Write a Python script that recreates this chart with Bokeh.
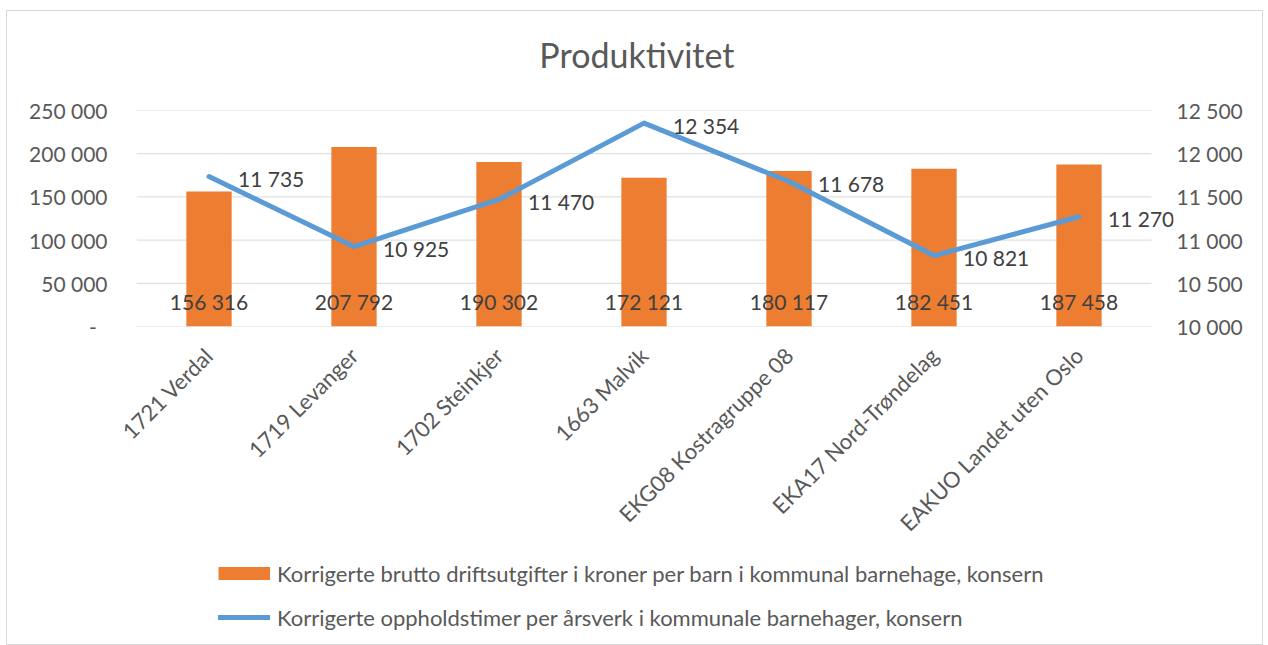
import math
from bokeh.plotting import figure
from bokeh.layouts import column
from bokeh.models import (Range1d, LinearAxis, FixedTicker, CustomJSTickFormatter,
                          Legend, LegendItem, ColumnDataSource, InlineStyleSheet)
from bokeh.core.properties import value
from bokeh.embed import file_html
from bokeh.resources import INLINE

categories = ["1721 Verdal", "1719 Levanger", "1702 Steinkjer", "1663 Malvik",
              "EKG08 Kostragruppe 08", "EKA17 Nord-Trøndelag", "EAKUO Landet uten Oslo"]
cost_values = [156316, 207792, 190302, 172121, 180117, 182451, 187458]
hours_values = [11735, 10925, 11470, 12354, 11678, 10821, 11270]
left_ticks = [0, 50000, 100000, 150000, 200000, 250000]
right_ticks = [10000, 10500, 11000, 11500, 12000, 12500]
title_text = "Produktivitet"
cost_label = "Korrigerte brutto driftsutgifter i kroner per barn i kommunal barnehage, konsern"
hours_label = "Korrigerte oppholdstimer per årsverk i kommunale barnehager, konsern"

FONT = "Lato"
GRAY = "#595959"
DARK = "#404040"
ORANGE = "#ED7D31"
BLUE = "#5B9BD5"
GRID = "#d9d9d9"

def fmt(n):
    return f"{n:,}".replace(",", " ")

n = len(categories)
xpos = [i + 0.5 for i in range(n)]  # category centres on a numeric scale

src = ColumnDataSource(dict(
    x=xpos, cat=categories, cost=cost_values, hours=hours_values,
    cost_txt=[fmt(v) for v in cost_values],
    hours_txt=[fmt(v) for v in hours_values],
    zero=[0] * n,
))

W = 1255
H_TITLE = 85
H_CHART = 460
H_LEG = 633 - H_TITLE - H_CHART
FRAME_L = 129          # frame left (px inside figure)
FRAME_R = 1166         # frame right (px inside figure), leaves room for last label
CAT_PX = 145           # px per category
x_end = (FRAME_R - FRAME_L) / CAT_PX

# ---- title panel ----
tfig = figure(width=W, height=H_TITLE, output_backend="svg", toolbar_location=None,
              x_range=Range1d(0, 1), y_range=Range1d(0, 1), title=None,
              x_axis_type=None, y_axis_type=None, min_border=0)
tfig.outline_line_color = None
tfig.grid.visible = False
tfig.text(x=[0.3885], y=[0.49], text=[title_text], text_align="left",
          text_baseline="alphabetic", text_font=value(FONT), text_font_size="34px",
          text_color=GRAY)

# ---- main chart ----
p = figure(x_range=Range1d(0, x_end), y_range=Range1d(0, 250000), title=None,
           width=W, height=H_CHART, output_backend="svg", toolbar_location=None,
           min_border_left=FRAME_L, min_border_right=W - FRAME_R, min_border_top=14,
           min_border_bottom=H_CHART - 14 - 216)
p.extra_y_ranges = {"right": Range1d(10000, 12500)}

p.outline_line_color = None
p.xgrid.visible = False
p.ygrid.visible = False

# horizontal gridlines spanning the category area only
p.segment(x0=[0] * len(left_ticks), x1=[n] * len(left_ticks), y0=left_ticks, y1=left_ticks,
          line_color=GRID, line_width=1)

num_code = """
if (tick == 0) { return "-\\u00a0\\u00a0"; }
return Math.round(tick).toString().replace(/\\B(?=(\\d{3})+(?!\\d))/g, " ");
"""
num_code_r = """
return Math.round(tick).toString().replace(/\\B(?=(\\d{3})+(?!\\d))/g, " ");
"""

ya = p.yaxis[0]
ya.ticker = FixedTicker(ticks=left_ticks)
ya.formatter = CustomJSTickFormatter(code=num_code)
ya.axis_line_color = None
ya.major_tick_line_color = None
ya.minor_tick_line_color = None
ya.major_label_standoff = 23
ya.major_label_text_font = FONT
ya.major_label_text_font_size = "21px"
ya.major_label_text_color = GRAY

ra = LinearAxis(y_range_name="right", ticker=FixedTicker(ticks=right_ticks),
                formatter=CustomJSTickFormatter(code=num_code_r))
ra.axis_line_color = None
ra.major_tick_line_color = None
ra.minor_tick_line_color = None
ra.major_label_standoff = -3
ra.major_label_text_font = FONT
ra.major_label_text_font_size = "21px"
ra.major_label_text_color = GRAY
p.add_layout(ra, "right")

xa = p.xaxis[0]
xa.ticker = FixedTicker(ticks=xpos)
xa.major_label_overrides = {x: c for x, c in zip(xpos, categories)}
xa.axis_line_color = None
xa.major_tick_line_color = None
xa.minor_tick_line_color = None
xa.major_label_orientation = math.pi / 4
xa.major_label_standoff = 19
xa.major_label_text_font = FONT
xa.major_label_text_font_size = "22px"
xa.major_label_text_color = GRAY

bars = p.vbar(x="x", top="cost", width=0.3125, source=src, fill_color=ORANGE, line_color=None)
line = p.line(x="x", y="hours", source=src, y_range_name="right", line_color=BLUE,
              line_width=5, line_cap="round", line_join="round")

p.text(x="x", y="zero", text="cost_txt", source=src, text_align="center",
       text_baseline="middle", y_offset=-25, text_font=value(FONT),
       text_font_size="21px", text_color=DARK)
p.text(x="x", y="hours", text="hours_txt", source=src, y_range_name="right",
       text_align="left", text_baseline="middle", x_offset=29, y_offset=2,
       text_font=value(FONT), text_font_size="21px", text_color=DARK)

# ---- legend panel ----
leg = figure(width=W, height=H_LEG, output_backend="svg", toolbar_location=None,
             x_range=Range1d(0, 1), y_range=Range1d(0, 1), title=None,
             x_axis_type=None, y_axis_type=None, min_border=0)
leg.outline_line_color = None
leg.grid.visible = False
sw_bar = leg.line(x=[-5, -4], y=[-5, -5], line_color=ORANGE, line_width=13, line_cap="butt")
sw_line = leg.line(x=[-5, -4], y=[-5, -5], line_color=BLUE, line_width=5, line_cap="round")

legend = Legend(items=[LegendItem(label=cost_label, renderers=[sw_bar]),
                       LegendItem(label=hours_label, renderers=[sw_line])],
                location=(82, 12), orientation="vertical",
                glyph_width=52, glyph_height=16, label_height=30, spacing=14,
                padding=0, margin=0, label_standoff=7,
                border_line_color=None, background_fill_alpha=0,
                label_text_font=FONT, label_text_font_size="22px", label_text_color=GRAY)
leg.add_layout(legend, "center")

layout = column(tfig, p, leg, spacing=0, margin=(11, 0, 0, 7),
                stylesheets=[InlineStyleSheet(css=":host { outline: 1px solid #d9d9d9; }")])

open("out.html", "w").write(file_html(layout, INLINE))
